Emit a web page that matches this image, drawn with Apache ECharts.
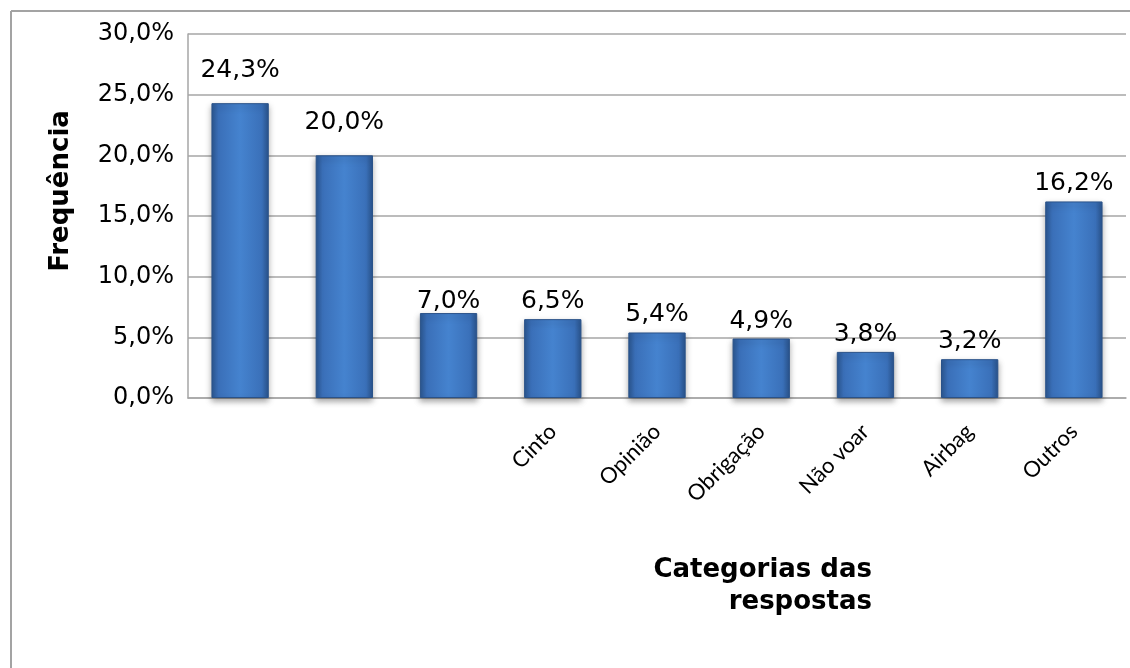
<!DOCTYPE html>
<html>
<head>
<meta charset="utf-8">
<script src="https://cdn.jsdelivr.net/npm/echarts@6/dist/echarts.min.js"></script>
<style>
html,body{margin:0;padding:0;background:#fff;}
#chart{width:1130px;height:668px;}
</style>
</head>
<body>
<div id="chart"></div>
<script>
// Data
var categories = ['', '', '', 'Cinto', 'Opinião', 'Obrigação', 'Não voar', 'Airbag', 'Outros'];
var values = [24.3, 20.0, 7.0, 6.5, 5.4, 4.9, 3.8, 3.2, 16.2];
var yAxisTitle = 'Frequência';
var xAxisTitle = 'Categorias das\nrespostas';

function pct(v){ return v.toFixed(1).replace('.', ',') + '%'; }

var labelDistance = [20, 20, -1, 5, 5, 5, 5, 5, 5];

var barColor = new echarts.graphic.LinearGradient(0, 0, 1, 0, [
  {offset: 0, color: '#2b5791'},
  {offset: 0.12, color: '#3a6fb8'},
  {offset: 0.5, color: '#4583cf'},
  {offset: 0.88, color: '#3a70b9'},
  {offset: 1, color: '#2a548d'}
]);

var chart = echarts.init(document.getElementById('chart'), null, {renderer: 'canvas'});
chart.setOption({
  animation: false,
  backgroundColor: '#ffffff',
  grid: {left: 188, right: 4, top: 34, bottom: 270, containLabel: false, outerBoundsMode: 'none'},
  graphic: [
    {type: 'line', shape: {x1: 11, y1: 11, x2: 1130, y2: 11},
     style: {stroke: '#a3a3a3', lineWidth: 2}, silent: true, z: -1},
    {type: 'line', shape: {x1: 11, y1: 11, x2: 11, y2: 668},
     style: {stroke: '#a3a3a3', lineWidth: 2}, silent: true, z: -1},
    {type: 'text', x: 872, y: 554, silent: true,
     style: {text: xAxisTitle, align: 'right', verticalAlign: 'top',
       fontFamily: 'DejaVu Sans', fontWeight: 'bold', fontSize: 26,
       lineHeight: 32, fill: '#000'}}
  ],
  xAxis: {
    type: 'category',
    data: categories,
    axisLine: {show: true, lineStyle: {color: '#a6a6a6', width: 1.5}},
    axisTick: {show: false},
    axisLabel: {
      rotate: 45, margin: 30, interval: 0,
      fontFamily: 'Lato', fontSize: 22, color: '#000'
    }
  },
  yAxis: {
    type: 'value',
    min: 0, max: 30, interval: 5,
    axisLine: {show: true, lineStyle: {color: '#a6a6a6', width: 1.5}},
    axisTick: {show: false},
    splitLine: {show: true, lineStyle: {color: '#a6a6a6', width: 1.5}},
    axisLabel: {
      formatter: function(v){ return pct(v); },
      margin: 14, fontFamily: 'DejaVu Sans', fontSize: 24, color: '#000'
    },
    name: yAxisTitle,
    nameLocation: 'middle',
    nameGap: 114,
    nameTextStyle: {
      fontFamily: 'DejaVu Sans', fontWeight: 'bold', fontSize: 26,
      color: '#000', padding: [0, 0, 0, 50]
    }
  },
  series: [{
    type: 'bar',
    barWidth: '55%',
    data: values.map(function(v, i){
      return {value: v, label: {distance: labelDistance[i]}};
    }),
    itemStyle: {
      color: barColor,
      borderColor: '#2a5289', borderWidth: 1,
      shadowColor: 'rgba(0,0,0,0.35)', shadowBlur: 6, shadowOffsetY: 3
    },
    label: {
      show: true, position: 'top',
      formatter: function(p){ return pct(p.value); },
      fontFamily: 'DejaVu Sans', fontSize: 25, color: '#000'
    }
  }]
});
</script>
</body>
</html>
